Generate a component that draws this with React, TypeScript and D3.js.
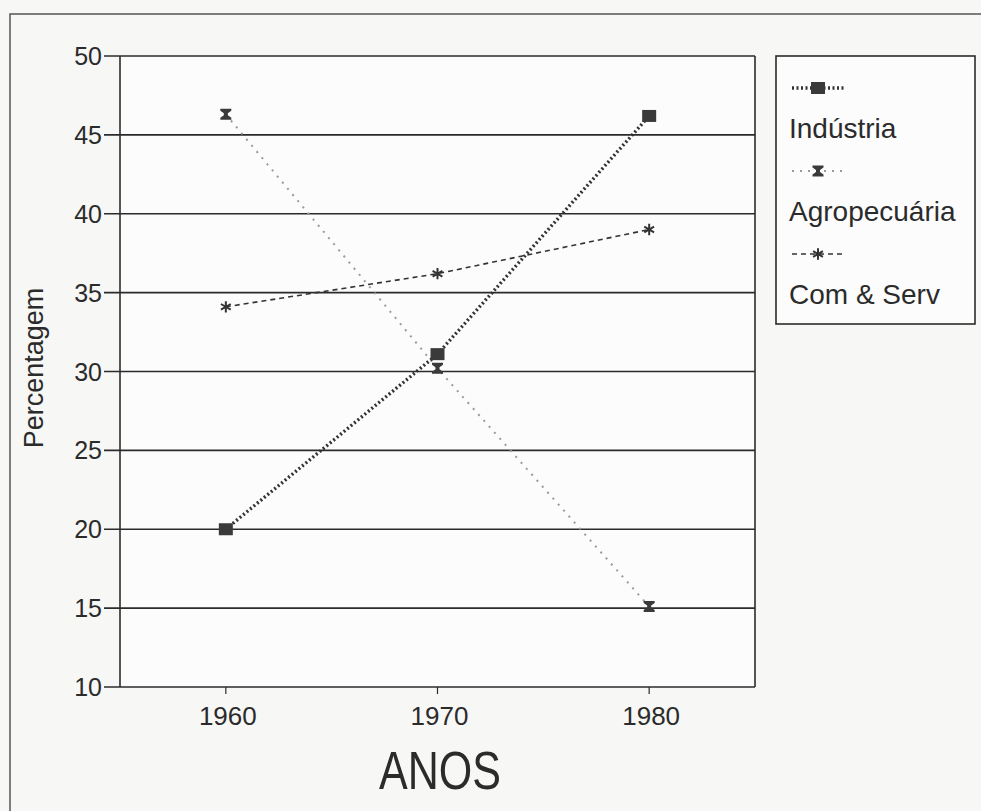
import React, { useEffect, useRef } from 'react';
import * as d3 from 'd3';

const years = [1960, 1970, 1980];
const industria = [20, 31.1, 46.2];
const agropecuaria = [46.3, 30.2, 15.1];
const comServ = [34.1, 36.2, 39.0];
const yTicks = [10, 15, 20, 25, 30, 35, 40, 45, 50];
const seriesNames = ['Indústria', 'Agropecuária', 'Com & Serv'];

const FONT = "'Liberation Sans', Arial, sans-serif";
const INK = '#2b2b2b';

export default function App() {
  const ref = useRef<SVGSVGElement>(null);

  useEffect(() => {
    const svg = d3.select(ref.current);
    svg.selectAll('*').remove();

    const W = 981, H = 811;
    const left = 120, right = 755, top = 56, bottom = 687;

    svg.append('rect').attr('width', W).attr('height', H).attr('fill', '#f7f7f5');
    // scanned page frame
    svg.append('path')
      .attr('d', `M10,${H} L10,14 L${W},14`)
      .attr('fill', 'none').attr('stroke', '#555').attr('stroke-width', 1.5);

    const x = d3.scaleLinear().domain([1955, 1985]).range([left, right]);
    const y = d3.scaleLinear().domain([10, 50]).range([bottom, top]);

    svg.append('rect')
      .attr('x', left).attr('y', top)
      .attr('width', right - left).attr('height', bottom - top)
      .attr('fill', '#fcfcfc');

    // gridlines (with tick stub on the left)
    svg.append('g')
      .selectAll('line')
      .data(yTicks)
      .enter().append('line')
      .attr('x1', left - 16).attr('x2', right)
      .attr('y1', d => y(d)).attr('y2', d => y(d))
      .attr('stroke', INK).attr('stroke-width', 1.6);

    svg.append('line').attr('x1', left).attr('x2', left).attr('y1', top).attr('y2', bottom)
      .attr('stroke', INK).attr('stroke-width', 1.6);
    svg.append('line').attr('x1', right).attr('x2', right).attr('y1', top).attr('y2', bottom)
      .attr('stroke', INK).attr('stroke-width', 1.6);

    // y tick labels
    svg.append('g')
      .selectAll('text')
      .data(yTicks)
      .enter().append('text')
      .attr('x', left - 18).attr('y', d => y(d))
      .attr('dy', '0.36em')
      .attr('text-anchor', 'end')
      .attr('font-family', FONT).attr('font-size', 25).attr('fill', INK)
      .text(d => d);

    // x ticks
    const xg = svg.append('g');
    xg.selectAll('line')
      .data(years)
      .enter().append('line')
      .attr('x1', d => x(d)).attr('x2', d => x(d))
      .attr('y1', bottom).attr('y2', bottom + 7)
      .attr('stroke', INK).attr('stroke-width', 1.2);
    xg.selectAll('text')
      .data(years)
      .enter().append('text')
      .attr('x', d => x(d) + 2).attr('y', bottom + 38)
      .attr('text-anchor', 'middle')
      .attr('font-family', FONT).attr('font-size', 26).attr('fill', INK)
      .text(d => d);

    svg.append('text')
      .attr('x', 440).attr('y', 789)
      .attr('text-anchor', 'middle')
      .attr('font-family', FONT).attr('font-size', 54).attr('fill', INK)
      .attr('textLength', 122).attr('lengthAdjust', 'spacingAndGlyphs')
      .text('ANOS');

    svg.append('text')
      .attr('transform', `translate(43, 368) rotate(-90)`)
      .attr('text-anchor', 'middle')
      .attr('font-family', FONT).attr('font-size', 27).attr('fill', INK)
      .text('Percentagem');

    const line = d3.line<number>()
      .x((d, i) => x(years[i]))
      .y(d => y(d));

    const styles = [
      { stroke: '#333', width: 3.4, dash: '2,2.5' },
      { stroke: '#9a9a9a', width: 2, dash: '2,6' },
      { stroke: '#333', width: 1.6, dash: '5,4' },
    ];
    const allSeries = [industria, agropecuaria, comServ];

    const hourglass = (s: number) =>
      `M${-s},${-s} L${s},${-s} L${s},${-s + 2} L2,-1 L2,1 L${s},${s - 2} L${s},${s} L${-s},${s} L${-s},${s - 2} L-2,1 L-2,-1 L${-s},${-s + 2} Z`;

    const drawMarker = (g: any, k: number, cx: number, cy: number) => {
      if (k === 0) {
        g.append('rect')
          .attr('x', cx - 7).attr('y', cy - 6).attr('width', 14).attr('height', 12)
          .attr('fill', '#3a3a3a');
      } else if (k === 1) {
        g.append('path')
          .attr('transform', `translate(${cx},${cy})`)
          .attr('d', hourglass(5.5))
          .attr('fill', '#3a3a3a');
      } else {
        g.append('path')
          .attr('transform', `translate(${cx},${cy})`)
          .attr('d', d3.symbol().type(d3.symbolAsterisk).size(90)())
          .attr('stroke', '#333').attr('stroke-width', 2).attr('fill', 'none');
      }
    };

    [1, 2, 0].forEach(k => {
      svg.append('path')
        .datum(allSeries[k])
        .attr('fill', 'none')
        .attr('stroke', styles[k].stroke)
        .attr('stroke-width', styles[k].width)
        .attr('stroke-dasharray', styles[k].dash)
        .attr('d', line);
      const g = svg.append('g');
      allSeries[k].forEach((v, i) => drawMarker(g, k, x(years[i]), y(v)));
    });

    // legend
    const lx = 776, ly = 56, lw = 199, lh = 268;
    svg.append('rect')
      .attr('x', lx).attr('y', ly).attr('width', lw).attr('height', lh)
      .attr('fill', '#fcfcfc').attr('stroke', INK).attr('stroke-width', 1.6);

    seriesNames.forEach((name, k) => {
      const sy = ly + 32 + k * 83;
      const g = svg.append('g');
      g.append('line')
        .attr('x1', lx + 16).attr('x2', lx + 68)
        .attr('y1', sy).attr('y2', sy)
        .attr('stroke', styles[k].stroke)
        .attr('stroke-width', styles[k].width)
        .attr('stroke-dasharray', styles[k].dash);
      drawMarker(g, k, lx + 42, sy);
      svg.append('text')
        .attr('x', lx + 13).attr('y', sy + 50)
        .attr('font-family', FONT).attr('font-size', 28).attr('fill', INK)
        .text(name);
    });
  }, []);

  return (
    <svg ref={ref} width={981} height={811}
      style={{ position: 'absolute', left: 0, top: 0, display: 'block' }} />
  );
}
